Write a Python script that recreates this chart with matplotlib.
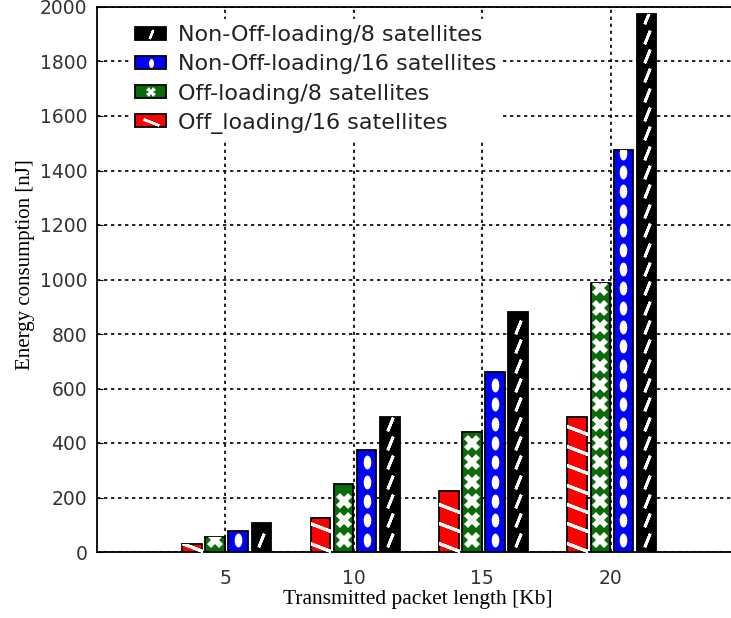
import matplotlib
matplotlib.use('Agg')
import matplotlib.pyplot as plt
import numpy as np
from matplotlib.patches import Patch
from matplotlib.lines import Line2D
from matplotlib.legend_handler import HandlerTuple

lengths = [5, 10, 15, 20]
off16 = [28, 123, 224, 495]
off8 = [54, 250, 440, 987]
non16 = [77, 374, 662, 1475]
non8 = [105, 495, 880, 1976]

labels = ['Off_loading/16 satellites', 'Off-loading/8 satellites',
          'Non-Off-loading/16 satellites', 'Non-Off-loading/8 satellites']
colors = ['#ff0000', '#0b6b0b', '#0000ff', '#000000']

# white pattern markers drawn inside each bar
theta = np.linspace(0, 2 * np.pi, 30)
oval = np.column_stack([0.55 * np.cos(theta), np.sin(theta)])
mk = [
    dict(marker=(2, 2, 69), ms=20, mew=2.2, start=20),
    dict(marker='X', ms=11, mew=0, start=45),
    dict(marker=oval, ms=10, mew=0, start=45),
    dict(marker=(2, 2, -22), ms=10.5, mew=2.0, start=45),
]
step = 71

fig = plt.figure(figsize=(7.31, 6.18), dpi=100)
ax = fig.add_axes([97 / 731, 66 / 618, 642 / 731, 545 / 618])

offsets = [-1.3, -0.4, 0.5, 1.4]
width = 0.76
series = [off16, off8, non16, non8]
x = np.array(lengths, dtype=float)
for vals, off, col, m in zip(series, offsets, colors, mk):
    bars = ax.bar(x + off, vals, width, color=col, edgecolor='black',
                  linewidth=1.3, zorder=3)
    for b, h in zip(bars, vals):
        ys = np.arange(m['start'], h, step)
        xs = np.full(len(ys), b.get_x() + b.get_width() / 2)
        ln, = ax.plot(xs, ys, linestyle='none', marker=m['marker'],
                      ms=m['ms'], mfc='white', mec='white', mew=m['mew'],
                      zorder=4)
        ln.set_clip_path(b)

ax.set_xlim(0, 25)
ax.set_ylim(0, 2000)
ax.set_xticks(lengths)
ax.set_yticks(np.arange(0, 2001, 200))
ax.grid(True, linestyle=(0, (2, 2.2)), color='black', linewidth=1.2, zorder=0)
ax.set_axisbelow(True)
ax.tick_params(axis='both', direction='in', labelsize=13.5,
               labelcolor='#333333', length=4, pad=7)
ax.tick_params(axis='x', length=0, pad=12)
for s in ['left', 'bottom', 'top']:
    ax.spines[s].set_linewidth(1.3)
ax.spines['right'].set_visible(False)

ax.set_xlabel('Transmitted packet length [Kb]', family='Liberation Serif',
              fontsize=15.5, labelpad=2)
ax.set_ylabel('Energy consumption [nJ]', family='Liberation Serif',
              fontsize=15)
ax.yaxis.set_label_coords(-0.096, 0.528)

handles = []
for col, m in zip(colors, mk):
    p = Patch(facecolor=col, edgecolor='black', linewidth=1.3)
    ms = m['ms'] * (0.6 if m['ms'] > 15 else 0.65)
    l = Line2D([], [], linestyle='none', marker=m['marker'], ms=ms,
               mfc='white', mec='white', mew=m['mew'] * 0.8)
    handles.append((p, l))
handles = handles[::-1]
leg = ax.legend(handles, labels[::-1], loc='upper left',
                bbox_to_anchor=(0.032, 0.999), frameon=True,
                facecolor='white', edgecolor='none', framealpha=1,
                fancybox=False, borderpad=0.3,
                handler_map={tuple: HandlerTuple(ndivide=1, pad=0)},
                prop={'family': 'DejaVu Sans', 'size': 16},
                handlelength=1.4, handleheight=0.5, labelspacing=0.41,
                handletextpad=0.5)
leg.set_zorder(5)
for t in leg.get_texts():
    t.set_color('#222222')

fig.savefig('out.png', dpi=100)
